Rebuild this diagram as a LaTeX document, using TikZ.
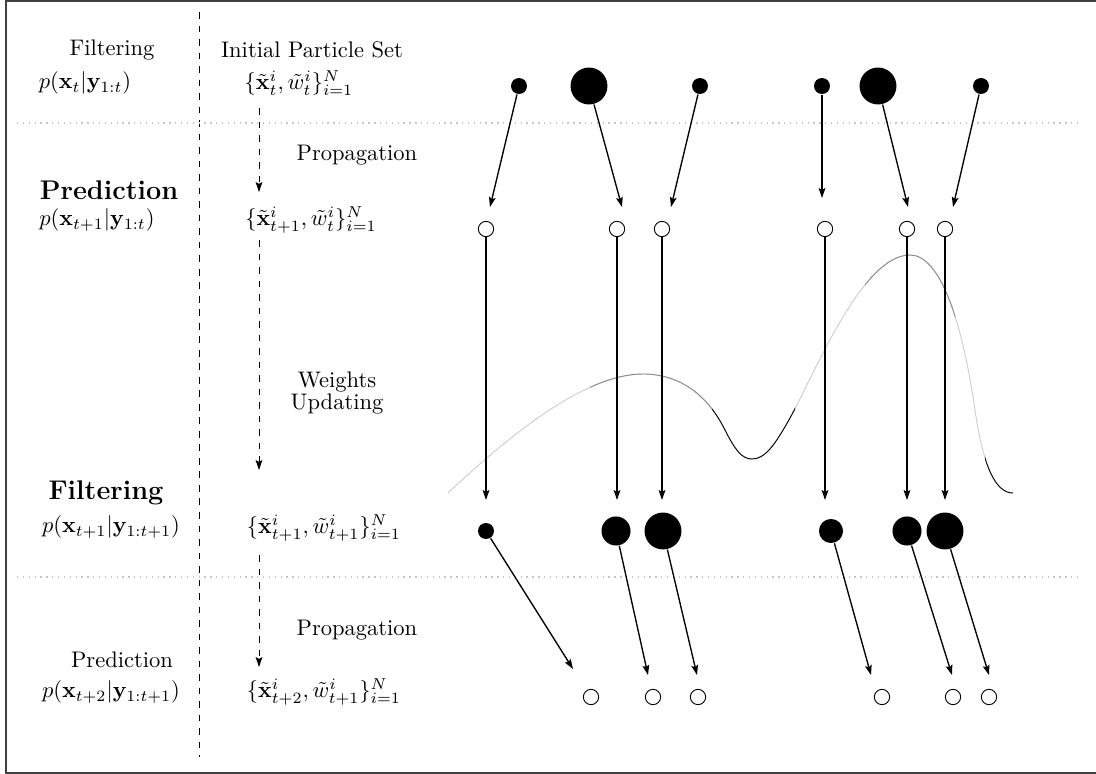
\documentclass[tikz,border=0pt]{standalone}
\usepackage{tikz}
\usepackage{amssymb}
\usetikzlibrary{arrows.meta}

% likelihood curve, used for the light pass and the dark overlays
\newcommand{\lkcurve}{(448,493) .. controls (520,425) and (590,374) .. (643,374)
  .. controls (675,374) and (705,390) .. (725,430)
  .. controls (735,450) and (742,459) .. (752,459)
  .. controls (765,459) and (775,445) .. (790,418)
  .. controls (815,373) and (862,255) .. (910,255)
  .. controls (940,255) and (962,320) .. (975,410)
  .. controls (983,465) and (995,493) .. (1013,493)}

\begin{document}
\begin{tikzpicture}[>={Stealth[length=4.4pt,width=3pt,inset=0.8pt]},x=0.444pt,y=-0.444pt,semithick,
  every node/.append style={inner sep=1pt},
  particle/.style={circle,fill=black,inner sep=0pt,minimum size=#1},
  proposal/.style={circle,draw,thin,inner sep=0pt,minimum size=6.8pt},
  flow/.style={->,dashed,thin},
  heading/.style={font=\large\bfseries}]
  \useasboundingbox (0,0) rectangle (1096,774);
  \draw[black!75,line width=0.6pt] (6,1) rectangle (1120,773);

  % frame of the columns
  \draw[dashed,thin] (199,12) -- (199,757);
  \draw[gray!45,dotted] (17,123) -- (1080,123);
  \draw[gray!45,dotted] (17,577) -- (1080,577);

  % left column
  \node (filt0) at (112,50)  {Filtering};
  \node (post0) at (85,83)   {$p(\mathbf{x}_t|\mathbf{y}_{1:t})$};
  \node[heading] (pred1) at (109,190) {Prediction};
  \node (post1) at (97,220)  {$p(\mathbf{x}_{t+1}|\mathbf{y}_{1:t})$};
  \node[heading] (filt1) at (106,493) {Filtering};
  \node (post2) at (111,527) {$p(\mathbf{x}_{t+1}|\mathbf{y}_{1:t+1})$};
  \node (pred2) at (122,660) {Prediction};
  \node (post3) at (111,692) {$p(\mathbf{x}_{t+2}|\mathbf{y}_{1:t+1})$};

  % middle column
  \node (init) at (312,50)  {Initial Particle Set};
  \node (set0) at (299,83)  {$\{\tilde{\mathbf{x}}_t^i,\tilde{w}_t^i\}_{i=1}^N$};
  \node (prop1) at (357,155) {Propagation};
  \node (set1) at (311,220) {$\{\tilde{\mathbf{x}}_{t+1}^i,\tilde{w}_t^i\}_{i=1}^N$};
  \node[align=center] (wupd) at (337,393) {Weights\\[-1.8pt]Updating};
  \node (set2) at (324,528) {$\{\tilde{\mathbf{x}}_{t+1}^i,\tilde{w}_{t+1}^i\}_{i=1}^N$};
  \node (prop2) at (357,630) {Propagation};
  \node (set3) at (324,692) {$\{\tilde{\mathbf{x}}_{t+2}^i,\tilde{w}_{t+1}^i\}_{i=1}^N$};

  \coordinate (f0) at (259,108);
  \coordinate (f1) at (259,192);
  \coordinate (f2) at (259,240);
  \coordinate (f3) at (259,470);
  \coordinate (f4) at (259,555);
  \coordinate (f5) at (259,667);
  \draw[flow] (f0) -- (f1);
  \draw[flow] (f2) -- (f3);
  \draw[flow] (f4) -- (f5);

  % likelihood
  \draw[gray!40,thin] \lkcurve;
  \begin{scope}
    \clip (590,240) rectangle (712,520) (865,240) rectangle (955,520);
    \draw[black!45,thin] \lkcurve;
  \end{scope}
  \begin{scope}
    \clip (712,240) rectangle (795,520) (985,240) rectangle (1025,520);
    \draw[black,thin] \lkcurve;
  \end{scope}

  % particles
  \node[particle=7.1pt]  (a1) at (519,86) {};
  \node[particle=16.4pt] (a2) at (589,86) {};
  \node[particle=7.1pt]  (a3) at (700,86) {};
  \node[particle=7.1pt]  (a4) at (822,86) {};
  \node[particle=16.4pt] (a5) at (878,86) {};
  \node[particle=7.1pt]  (a6) at (981,86) {};

  \node[proposal] (b1) at (486,229) {};
  \node[proposal] (b2) at (617,229) {};
  \node[proposal] (b3) at (662,229) {};
  \node[proposal] (b4) at (825,229) {};
  \node[proposal] (b5) at (907,229) {};
  \node[proposal] (b6) at (945,229) {};

  \node[particle=7.1pt]  (c1) at (486,531) {};
  \node[particle=12.9pt] (c2) at (616,531) {};
  \node[particle=16.4pt] (c3) at (663,531) {};
  \node[particle=10.7pt] (c4) at (831,531) {};
  \node[particle=12.9pt] (c5) at (907,531) {};
  \node[particle=16.4pt] (c6) at (945,531) {};

  \node[proposal] (d1) at (591,697) {};
  \node[proposal] (d2) at (653,697) {};
  \node[proposal] (d3) at (698,697) {};
  \node[proposal] (d4) at (882,697) {};
  \node[proposal] (d5) at (953,697) {};
  \node[proposal] (d6) at (989,697) {};

  % arrow ends
  \coordinate (ta1) at (490,207);
  \coordinate (ta2) at (622,207);
  \coordinate (ta3) at (671,207);
  \coordinate (ta4) at (822,198);
  \coordinate (ta5) at (908,207);
  \coordinate (ta6) at (953,207);
  \coordinate (wl)  at (0,500);
  \coordinate (tc1) at (573,669);
  \coordinate (tc2) at (648,675);
  \coordinate (tc3) at (697,675);
  \coordinate (tc4) at (871,675);
  \coordinate (tc5) at (952,675);
  \coordinate (tc6) at (989,675);

  \path[->]
  (a1) edge (ta1)
  (a2) edge (ta2)
  (a3) edge (ta3)
  (a4) edge (ta4)
  (a5) edge (ta5)
  (a6) edge (ta6)
  (b1) edge (b1 |- wl)
  (b2) edge (b2 |- wl)
  (b3) edge (b3 |- wl)
  (b4) edge (b4 |- wl)
  (b5) edge (b5 |- wl)
  (b6) edge (b6 |- wl)
  (c1) edge (tc1)
  (c2) edge (tc2)
  (c3) edge (tc3)
  (c4) edge (tc4)
  (c5) edge (tc5)
  (c6) edge (tc6);
\end{tikzpicture}
\end{document}
